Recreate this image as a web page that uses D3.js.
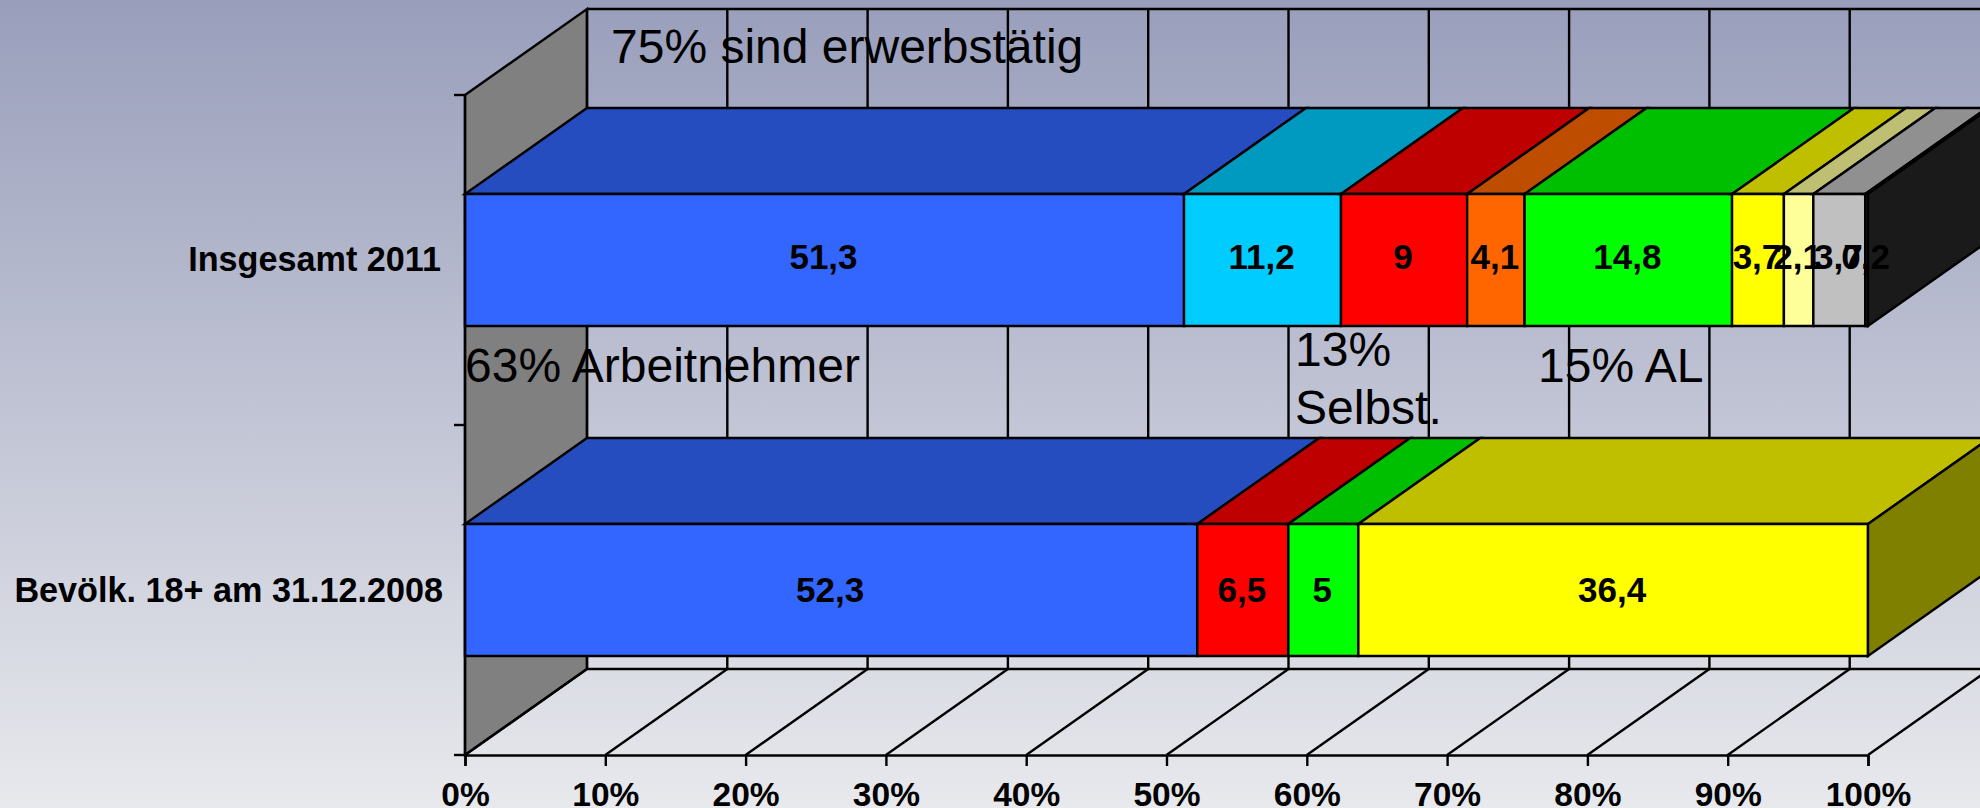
<!DOCTYPE html>
<html><head><meta charset="utf-8">
<script src="https://cdn.jsdelivr.net/npm/d3@7"></script>
<style>html,body{margin:0;padding:0;overflow:hidden;background:#ccc}svg{display:block}
text{font-family:"Liberation Sans",Arial,sans-serif;fill:#000}</style></head><body>
<script>
const categories = ["Insgesamt 2011", "Bevölk. 18+ am 31.12.2008"];
const rowInsgesamt = [51.3, 11.2, 9, 4.1, 14.8, 3.7, 2.1, 3.7, 0.2];
const rowBevoelk = [52.3, 6.5, 5, 36.4];
const labelsInsgesamt = ["51,3", "11,2", "9", "4,1", "14,8", "3,7", "2,1", "3,7", "0,2"];
const labelsBevoelk = ["52,3", "6,5", "5", "36,4"];
const colorsInsgesamt = ["#3366ff", "#00ccff", "#ff0000", "#ff6600", "#00ff00", "#ffff00", "#ffff99", "#c0c0c0", "#333333"];
const colorsBevoelk = ["#3366ff", "#ff0000", "#00ff00", "#ffff00"];
const xTicks = [0, 10, 20, 30, 40, 50, 60, 70, 80, 90, 100];
const notes = [
  {lines: ["75% sind erwerbstätig"], x: 611, y: 63},
  {lines: ["63% Arbeitnehmer"], x: 465, y: 382},
  {lines: ["13%", "Selbst."], x: 1295, y: 366},
  {lines: ["15% AL"], x: 1538, y: 382}
];

const W = 1980, H = 808;
const pLeft = 465, pRight = 1868, pTop = 95, pBottom = 755, dx = 122, dy = 86;
const svg = d3.select("body").append("svg").attr("width", W).attr("height", H);
const grad = svg.append("defs").append("linearGradient").attr("id", "bg")
  .attr("x1", 0).attr("y1", 0).attr("x2", 0).attr("y2", 1);
grad.append("stop").attr("offset", 0).attr("stop-color", "#999ebb");
grad.append("stop").attr("offset", 1).attr("stop-color", "#e8e9ed");
svg.append("rect").attr("width", W).attr("height", H).attr("fill", "url(#bg)");

const x = d3.scaleLinear().domain([0, 100]).range([pLeft, pRight]);
const y = d3.scaleBand().domain(categories).range([pTop, pBottom]).paddingInner(0.6).paddingOuter(0.3);
const LINE = {stroke: "#000", "stroke-width": 2.4, "stroke-linejoin": "miter"};
const setAttrs = (s, o) => { Object.entries(o).forEach(([k, v]) => s.attr(k, v)); return s; };
const poly = (g, pts, fill) => setAttrs(g.append("polygon")
  .attr("points", pts.map(p => p.join(",")).join(" ")).attr("fill", fill), LINE);
const shade = (c, k) => { const r = d3.rgb(c); return d3.rgb(r.r * k, r.g * k, r.b * k).formatHex(); };

// back wall, floor, left wall
const grid = svg.append("g");
poly(grid, [[pLeft, pTop], [pLeft + dx, pTop - dy], [pLeft + dx, pBottom - dy], [pLeft, pBottom]], "#808080");
xTicks.forEach(t => {
  setAttrs(grid.append("line").attr("x1", x(t) + dx).attr("x2", x(t) + dx).attr("y1", pTop - dy).attr("y2", pBottom - dy), LINE);
  setAttrs(grid.append("line").attr("x1", x(t)).attr("x2", x(t) + dx).attr("y1", pBottom).attr("y2", pBottom - dy), LINE);
});
setAttrs(grid.append("line").attr("x1", pLeft + dx).attr("x2", x(100) + dx).attr("y1", pTop - dy).attr("y2", pTop - dy), LINE);
setAttrs(grid.append("line").attr("x1", pLeft + dx).attr("x2", x(100) + dx).attr("y1", pBottom - dy).attr("y2", pBottom - dy), LINE);

// stacked bars
const rows = [
  {cat: categories[0], vals: rowInsgesamt, labels: labelsInsgesamt, colors: colorsInsgesamt, off: 9},
  {cat: categories[1], vals: rowBevoelk, labels: labelsBevoelk, colors: colorsBevoelk, off: 12}
];
const bars = svg.append("g");
const labelLayer = svg.append("g");
rows.forEach(row => {
  const total = d3.sum(row.vals);
  const y0 = y(row.cat), y1 = y0 + y.bandwidth();
  let cum = 0;
  row.vals.forEach((v, i) => {
    const a = x(cum / total * 100), b = x((cum + v) / total * 100);
    cum += v;
    const col = row.colors[i];
    poly(bars, [[a, y0], [b, y0], [b + dx, y0 - dy], [a + dx, y0 - dy]], shade(col, 0.75));
    poly(bars, [[a, y0], [b, y0], [b, y1], [a, y1]], col);
    if (i === row.vals.length - 1)
      poly(bars, [[b, y0], [b + dx, y0 - dy], [b + dx, y1 - dy], [b, y1]], shade(col, 0.5));
    labelLayer.append("text").attr("x", (a + b) / 2 - 1).attr("y", (y0 + y1) / 2 + row.off)
      .attr("text-anchor", "middle").attr("font-weight", "bold").attr("font-size", 35).text(row.labels[i]);
  });
});

// axes
const xAxis = d3.axisBottom(x).tickValues(xTicks).tickFormat(d => d + "%").tickSize(11);
const gx = svg.append("g").attr("transform", `translate(0,${pBottom})`).call(xAxis);
gx.selectAll("path,line").attr("stroke", "#000").attr("stroke-width", 2.4);
gx.selectAll("text").attr("y", 51).attr("dy", 0).attr("font-family", '"Liberation Sans"').attr("font-weight", "bold").attr("font-size", 33.5).attr("fill", "#000");

const yTickPos = [pTop, (pTop + pBottom) / 2, pBottom];
yTickPos.forEach(p => setAttrs(svg.append("line").attr("x1", pLeft - 11).attr("x2", pLeft).attr("y1", p).attr("y2", p), LINE));
setAttrs(svg.append("line").attr("x1", pLeft).attr("x2", pLeft).attr("y1", pTop).attr("y2", pBottom), LINE);
const yLabelRight = [441, 443];
const yLabelOff = [11, 12];
categories.forEach((c, i) => {
  svg.append("text").attr("x", yLabelRight[i]).attr("y", y(c) + y.bandwidth() / 2 + yLabelOff[i])
    .attr("text-anchor", "end").attr("font-weight", "bold").attr("font-size", 34.2).text(c);
});

// annotations
notes.forEach(n => {
  const t = svg.append("text").attr("font-size", 48);
  n.lines.forEach((l, i) => t.append("tspan").attr("x", n.x).attr("y", n.y + i * 58).text(l));
});
</script></body></html>
